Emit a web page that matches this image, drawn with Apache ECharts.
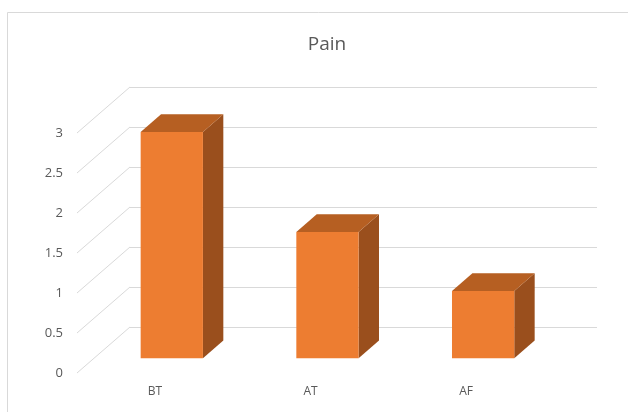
<!DOCTYPE html>
<html>
<head>
<meta charset="utf-8">
<script src="https://cdn.jsdelivr.net/npm/echarts@6/dist/echarts.min.js"></script>
<style>
  html, body { margin: 0; padding: 0; background: #ffffff; }
  #chart { width: 628px; height: 412px; }
</style>
</head>
<body>
<div id="chart"></div>
<script>
// Data
const categories = ['BT', 'AT', 'AF'];
const painValues = [2.83, 1.58, 0.84];
const valueTicks = [0, 0.5, 1, 1.5, 2, 2.5, 3];

// Oblique 3D layout: the front plane grid and the back wall grid are offset by the floor depth
const FRONT = { left: 77, top: 133, width: 467, height: 240 };
const DEPTH_DX = 53;
const DEPTH_DY = -46;
const BACK = { left: FRONT.left + DEPTH_DX, top: FRONT.top + DEPTH_DY, width: FRONT.width, height: FRONT.height };
const BAR_FRONT_DEPTH = 0.32;   // bar front face position within the floor depth
const BAR_DEPTH = 0.385;        // bar thickness as share of the floor depth
const BAR_WIDTH_SHARE = 0.4;

const GRID_COLOR = '#D9D9D9';
const TEXT_COLOR = '#595959';
const FONT = "'Open Sans', 'Noto Sans', sans-serif";

const chart = echarts.init(document.getElementById('chart'), null, { renderer: 'canvas' });

function renderDiagonal(params, api) {
  const y = api.coord([0, api.value(1)])[1];
  const x = params.coordSys.x;
  return {
    type: 'line',
    shape: { x1: x, y1: y, x2: x + DEPTH_DX, y2: y + DEPTH_DY },
    style: { stroke: GRID_COLOR, lineWidth: 1 }
  };
}

function renderBox(params, api) {
  const idx = api.value(0);
  const val = api.value(1);
  const base = api.coord([idx, 0]);
  const top = api.coord([idx, val]);
  const bw = api.size([1, 0])[0] * BAR_WIDTH_SHARE;
  const ox = DEPTH_DX * BAR_FRONT_DEPTH, oy = DEPTH_DY * BAR_FRONT_DEPTH;
  const dx = DEPTH_DX * BAR_DEPTH, dy = DEPTH_DY * BAR_DEPTH;
  const x0 = base[0] - bw / 2 + ox;
  const x1 = x0 + bw;
  const yb = base[1] + oy;
  const yt = top[1] + oy;
  return {
    type: 'group',
    children: [
      {
        type: 'polygon',
        shape: { points: [[x1, yt], [x1 + dx, yt + dy], [x1 + dx, yb + dy], [x1, yb]] },
        style: { fill: '#9A4F1D' }
      },
      {
        type: 'polygon',
        shape: { points: [[x0, yt], [x1, yt], [x1 + dx, yt + dy], [x0 + dx, yt + dy]] },
        style: { fill: '#B65F22' }
      },
      {
        type: 'rect',
        shape: { x: x0, y: yt, width: bw, height: yb - yt },
        style: { fill: '#ED7D31' }
      }
    ]
  };
}

chart.setOption({
  animation: false,
  backgroundColor: '#ffffff',
  title: {
    text: 'Pain',
    left: 322,
    top: 30,
    textAlign: 'center',
    textStyle: { color: TEXT_COLOR, fontSize: 19, fontWeight: 'normal', fontFamily: FONT }
  },
  graphic: [{
    type: 'rect',
    silent: true,
    z: -10,
    shape: { x: 7.5, y: 12.5, width: 700, height: 500 },
    style: { fill: 'none', stroke: GRID_COLOR, lineWidth: 1 }
  }],
  grid: [
    Object.assign({ containLabel: false }, FRONT),
    Object.assign({ containLabel: false }, BACK)
  ],
  xAxis: [
    {
      type: 'category', gridIndex: 0, data: categories,
      axisLine: { show: false }, axisTick: { show: false },
      axisLabel: { color: TEXT_COLOR, fontSize: 12, fontFamily: FONT, margin: 13 }
    },
    {
      type: 'category', gridIndex: 1, data: categories,
      axisLine: { show: false }, axisTick: { show: false }, axisLabel: { show: false }
    }
  ],
  yAxis: [
    {
      type: 'value', gridIndex: 0, min: 0, max: 3, interval: 0.5,
      axisLine: { show: false }, axisTick: { show: false }, splitLine: { show: false },
      axisLabel: { color: TEXT_COLOR, fontSize: 13, fontFamily: FONT, margin: 14 }
    },
    {
      type: 'value', gridIndex: 1, min: 0, max: 3, interval: 0.5,
      axisLine: { show: false }, axisTick: { show: false }, axisLabel: { show: false },
      splitLine: { show: true, lineStyle: { color: GRID_COLOR, width: 1 } }
    }
  ],
  series: [
    {
      type: 'custom',
      name: 'floor-diagonals',
      xAxisIndex: 0, yAxisIndex: 0,
      silent: true,
      clip: false,
      z: 1,
      renderItem: renderDiagonal,
      data: valueTicks.map(v => [0, v])
    },
    {
      type: 'custom',
      name: 'Pain',
      xAxisIndex: 0, yAxisIndex: 0,
      clip: false,
      z: 3,
      renderItem: renderBox,
      data: categories.map((c, i) => [i, painValues[i]])
    }
  ]
});
</script>
</body>
</html>
